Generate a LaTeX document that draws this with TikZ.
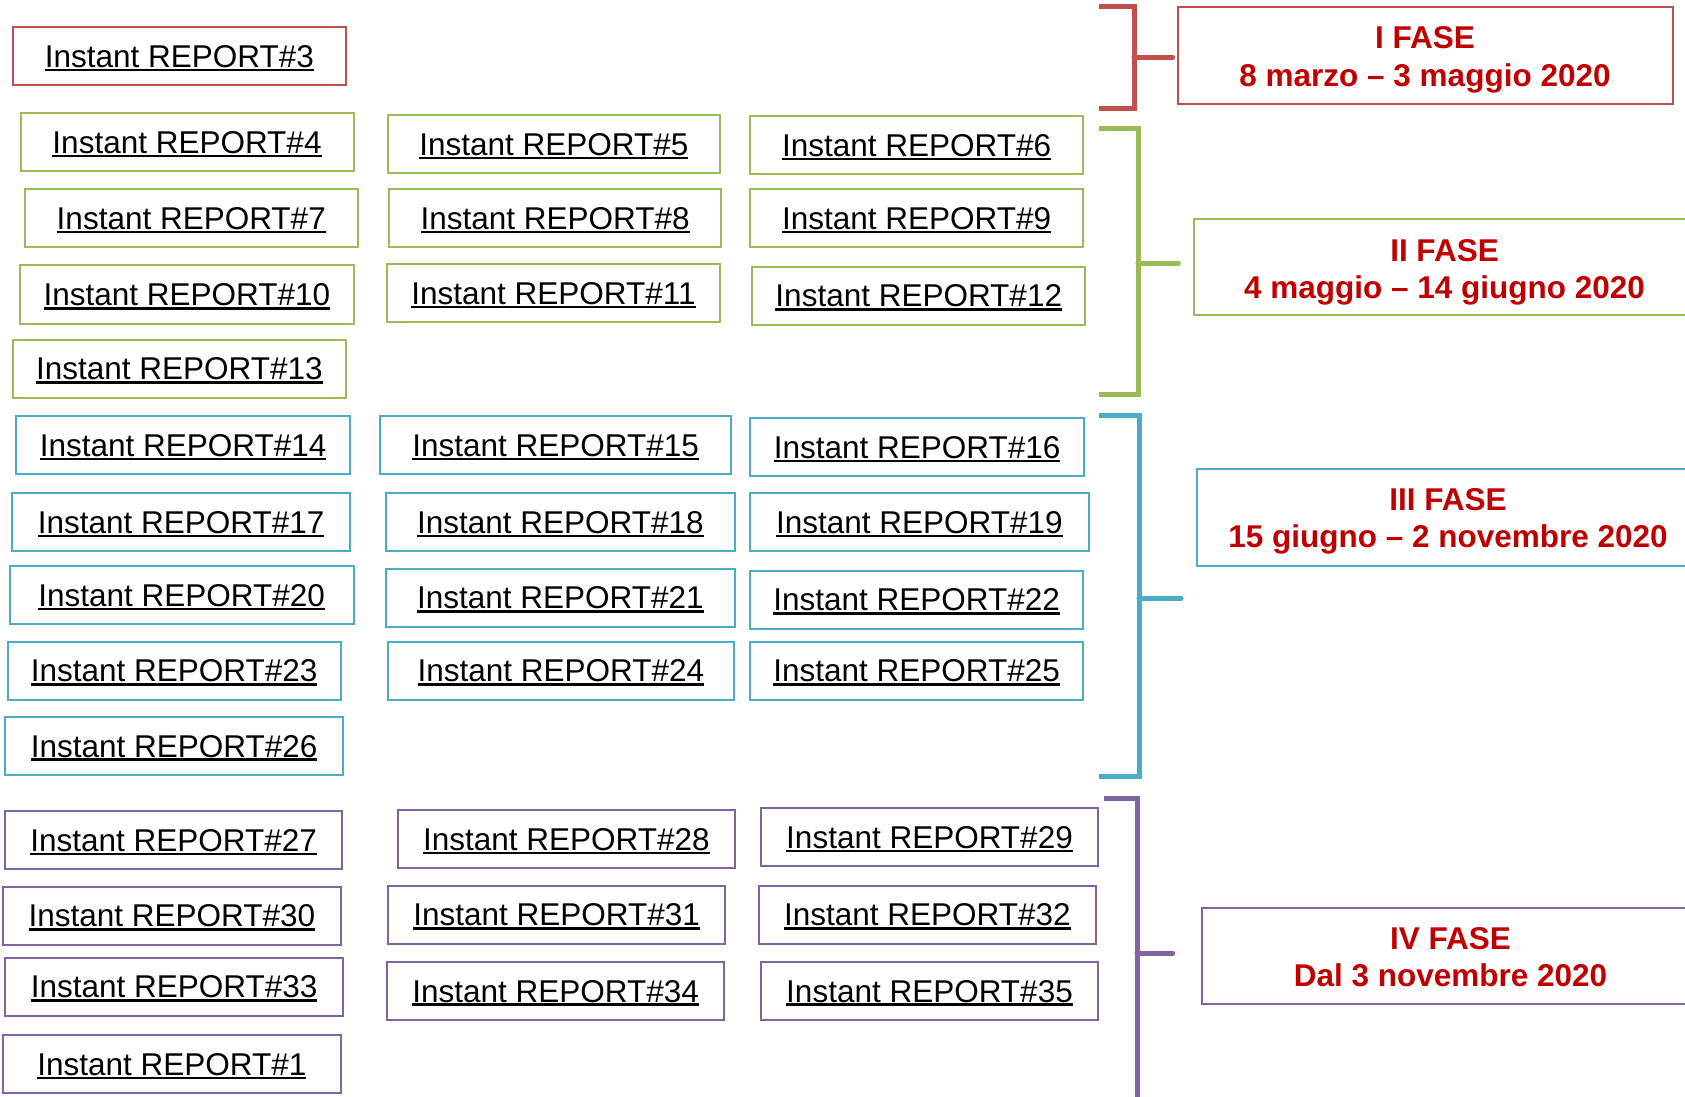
\documentclass[tikz,border=0pt]{standalone}
\usepackage{fontspec}
\setmainfont{Liberation Sans}
\newfontfamily\repfont{Liberation Sans}
\newfontfamily\phasefont{Liberation Sans}
\usetikzlibrary{fit}
\definecolor{cred}{HTML}{C0504D}
\definecolor{cgreen}{HTML}{9BBB59}
\definecolor{cblue}{HTML}{4BACC6}
\definecolor{cpurple}{HTML}{8064A2}
\definecolor{phasered}{HTML}{C00000}
\newsavebox\repsave
\newcommand\repul[1]{\sbox\repsave{#1}\rlap{\rule[-3.8pt]{\wd\repsave}{2.4pt}}\usebox\repsave}
\newcommand\rep[6]{\node[rbox,draw=#6,minimum width={#4-#2},minimum height={#5-#3}] (r#1) at ({(#2+#4)/2},{(#3+#5)/2}) {\repul{Instant REPORT\##1}};}
\tikzset{
  rbox/.style={rectangle, inner sep=0pt, line width=2pt,
    font=\repfont\fontsize{31.5pt}{37pt}\selectfont, text height=22.5pt, text depth=0pt},
  pbox/.style={rectangle, inner sep=0pt, line width=2pt},
  ptxt/.style={inner sep=0pt, anchor=base, text=phasered,
    font=\phasefont\bfseries\fontsize{31.5pt}{37pt}\selectfont},
  brk/.style={line width=5pt, draw=#1, line join=miter},
  brkshadow/.style={line width=5pt, draw=black, opacity=0.18, shift={(2,3)}},
}
\begin{document}
\begin{tikzpicture}[x=1pt,y=-1pt]
\useasboundingbox (0,0) rectangle (1685,1096);
\begin{scope}
\clip (0,0) rectangle (1685,1096);
% ---- report boxes ----
\rep{3}{12.7}{26.8}{346}{85}{cred}
\rep{4}{20.5}{113}{353.5}{171}{cgreen}
\rep{5}{387.9}{115}{720}{173}{cgreen}
\rep{6}{750.1}{116.1}{1083.2}{174.1}{cgreen}
\rep{7}{24.7}{189.1}{357.8}{247.2}{cgreen}
\rep{8}{389}{189.1}{721.1}{247.2}{cgreen}
\rep{9}{750.1}{189.1}{1083.2}{247.2}{cgreen}
\rep{10}{20.4}{265.4}{353.5}{323.5}{cgreen}
\rep{11}{386.9}{264.4}{720}{322.4}{cgreen}
\rep{12}{752.2}{266.5}{1085.3}{324.5}{cgreen}
\rep{13}{12.9}{339.6}{346}{397.6}{cgreen}
\rep{14}{16.1}{415.9}{350.3}{473.9}{cblue}
\rep{15}{380.4}{415.9}{730.7}{473.9}{cblue}
\rep{16}{750.1}{418}{1084.3}{476}{cblue}
\rep{17}{11.8}{493.2}{350.3}{551.3}{cblue}
\rep{18}{385.8}{493.2}{735}{551.3}{cblue}
\rep{19}{750.1}{493.2}{1088.6}{551.3}{cblue}
\rep{20}{9.7}{566.3}{353.5}{624.3}{cblue}
\rep{21}{385.8}{568.5}{735}{626.5}{cblue}
\rep{22}{750.1}{570.6}{1083.2}{628.6}{cblue}
\rep{23}{7.5}{641.5}{340.6}{699.6}{cblue}
\rep{24}{387.9}{641.5}{734}{699.6}{cblue}
\rep{25}{750.1}{641.5}{1083.2}{699.6}{cblue}
\rep{26}{5.4}{716.8}{342.8}{774.8}{cblue}
\rep{27}{5.4}{811.3}{341.7}{869.4}{cpurple}
\rep{28}{397.6}{810.2}{735}{868.3}{cpurple}
\rep{29}{760.8}{808.1}{1098.2}{866.1}{cpurple}
\rep{30}{3.2}{886.5}{340.6}{944.6}{cpurple}
\rep{31}{387.9}{885.5}{725.4}{943.5}{cpurple}
\rep{32}{758.7}{885.5}{1096.1}{943.5}{cpurple}
\rep{33}{5.4}{957.5}{342.8}{1015.5}{cpurple}
\rep{34}{386.9}{961.8}{724.3}{1019.8}{cpurple}
\rep{35}{760.8}{961.8}{1098.2}{1019.8}{cpurple}
\rep{1}{3}{1035}{340.7}{1093}{cpurple}
% ---- phase boxes ----
\node[pbox, draw=cred, fit={(1178.4,7)(1673.4,104)}] (p1) {};
\node[pbox, draw=cgreen, fit={(1194,219)(1700,315)}] (p2) {};
\node[pbox, draw=cblue, fit={(1197,469)(1700,566)}] (p3) {};
\node[pbox, draw=cpurple, fit={(1202,908)(1700,1004)}] (p4) {};
\node[ptxt] (t1) at (1425,48) {\begin{tabular}[t]{@{}c@{}}I FASE\\[1pt]8 marzo – 3 maggio 2020\end{tabular}};
\node[ptxt] (t2) at (1444.5,261) {\begin{tabular}[t]{@{}c@{}}II FASE\\4 maggio – 14 giugno 2020\end{tabular}};
\node[ptxt] (t3) at (1448,510.5) {\begin{tabular}[t]{@{}c@{}}III FASE\\15 giugno – 2 novembre 2020\end{tabular}};
\node[ptxt] (t4) at (1450.5,949) {\begin{tabular}[t]{@{}c@{}}IV FASE\\Dal 3 novembre 2020\end{tabular}};
% ---- brackets ----
\coordinate (b1a) at (1098.5,6);   \coordinate (b1b) at (1098.5,108); \coordinate (b1v) at (1134,57);  \coordinate (b1m) at (1172.6,57);
\coordinate (b2a) at (1098.5,128); \coordinate (b2b) at (1098.5,394); \coordinate (b2v) at (1138,263); \coordinate (b2m) at (1178.4,263);
\coordinate (b3a) at (1098.5,415); \coordinate (b3b) at (1098.5,776); \coordinate (b3v) at (1139,598); \coordinate (b3m) at (1181,598);
\coordinate (b4a) at (1104,798);   \coordinate (b4b) at (1137,1110);  \coordinate (b4v) at (1137,953); \coordinate (b4m) at (1172.6,953);
\foreach \a/\b/\v/\m/\c in {b1a/b1b/b1v/b1m/cred, b2a/b2b/b2v/b2m/cgreen, b3a/b3b/b3v/b3m/cblue}{
  \draw[brkshadow] (\a) -| (\v) |- (\b);
  \draw[brkshadow, line cap=round] (\v) -- (\m);
  \draw[brk=\c] (\a) -| (\v) |- (\b);
  \draw[brk=\c, line cap=round] (\v) -- (\m);
}
\draw[brkshadow] (b4a) -| (b4b);
\draw[brkshadow, line cap=round] (b4v) -- (b4m);
\draw[brk=cpurple] (b4a) -| (b4b);
\draw[brk=cpurple, line cap=round] (b4v) -- (b4m);
\end{scope}
\end{tikzpicture}
\end{document}
